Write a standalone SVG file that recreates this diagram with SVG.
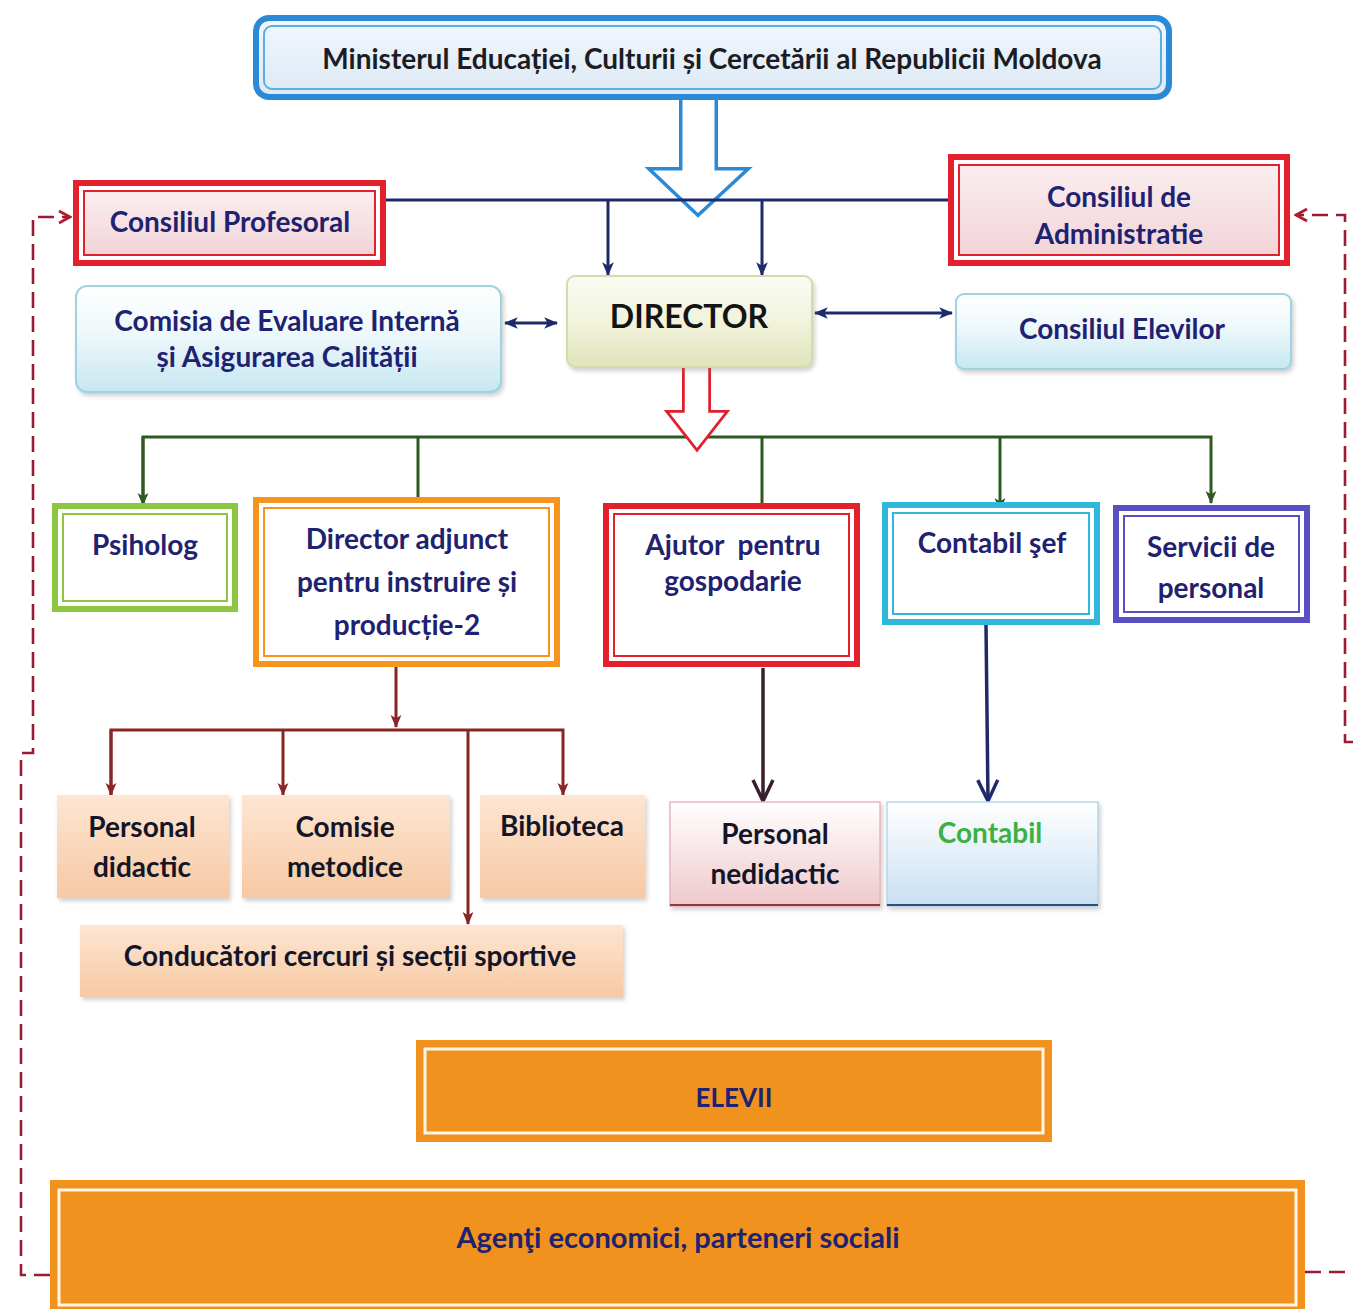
<svg xmlns="http://www.w3.org/2000/svg" width="1353" height="1309" viewBox="0 0 1353 1309">
<defs>
<style>
text{font-family:Lato,"Open Sans","Liberation Sans",sans-serif;font-weight:bold;text-anchor:middle;dominant-baseline:central;font-size:28px}
.nv{fill:#1e2270}
.dk{fill:#151528}
.navy{stroke:#1f2a6b;stroke-width:3;fill:none}
.green{stroke:#2f5a1f;stroke-width:3;fill:none}
.dred{stroke:#8b2424;stroke-width:3;fill:none}
.dash{stroke:#9a1c34;stroke-width:2.6;fill:none;stroke-dasharray:16 8}
</style>
<linearGradient id="gBlue" x1="0" y1="0" x2="0" y2="1"><stop offset="0" stop-color="#f2f7fc"/><stop offset="1" stop-color="#dce9f5"/></linearGradient>
<linearGradient id="gPink" x1="0" y1="0" x2="0" y2="1"><stop offset="0" stop-color="#fbeef0"/><stop offset="1" stop-color="#f1d4d8"/></linearGradient>
<linearGradient id="gCyan" x1="0" y1="0" x2="0" y2="1"><stop offset="0" stop-color="#ffffff"/><stop offset="0.45" stop-color="#eef8fb"/><stop offset="1" stop-color="#c6e7f0"/></linearGradient>
<linearGradient id="gDir" x1="0" y1="0" x2="0" y2="1"><stop offset="0" stop-color="#fbfbf4"/><stop offset="0.5" stop-color="#f1f3dc"/><stop offset="1" stop-color="#dfe4b8"/></linearGradient>
<linearGradient id="gPeach2" x1="0" y1="0" x2="0" y2="1"><stop offset="0" stop-color="#fde6d2"/><stop offset="1" stop-color="#f7c9a4"/></linearGradient>
<linearGradient id="gNed" x1="0" y1="0" x2="0" y2="1"><stop offset="0" stop-color="#ffffff"/><stop offset="1" stop-color="#efc8cc"/></linearGradient>
<linearGradient id="gCont" x1="0" y1="0" x2="0" y2="1"><stop offset="0" stop-color="#ffffff"/><stop offset="1" stop-color="#c9e0f2"/></linearGradient>
<filter id="sh" x="-5%" y="-5%" width="112%" height="120%"><feDropShadow dx="2" dy="3" stdDeviation="2" flood-color="#7a7a7a" flood-opacity="0.35"/></filter>
<marker id="aNavy" markerUnits="userSpaceOnUse" markerWidth="14" markerHeight="14" viewBox="0 0 12 12" refX="11" refY="6" orient="auto-start-reverse"><path d="M0,1 L12,6 L0,11 L3,6 z" fill="#1f2a6b"/></marker>
<marker id="aGreen" markerUnits="userSpaceOnUse" markerWidth="13" markerHeight="13" viewBox="0 0 12 12" refX="11" refY="6" orient="auto"><path d="M0,1 L12,6 L0,11 L3,6 z" fill="#2f5a1f"/></marker>
<marker id="aRed" markerUnits="userSpaceOnUse" markerWidth="13" markerHeight="13" viewBox="0 0 12 12" refX="11" refY="6" orient="auto"><path d="M0,1 L12,6 L0,11 L3,6 z" fill="#8b2424"/></marker>
<marker id="aOpenDk" markerUnits="userSpaceOnUse" markerWidth="26" markerHeight="26" viewBox="0 0 26 26" refX="24" refY="13" orient="auto"><path d="M3,3 L24,13 L3,23" fill="none" stroke="#3a1f2e" stroke-width="3.5"/></marker>
<marker id="aOpenNv" markerUnits="userSpaceOnUse" markerWidth="26" markerHeight="26" viewBox="0 0 26 26" refX="24" refY="13" orient="auto"><path d="M3,3 L24,13 L3,23" fill="none" stroke="#1f2a6b" stroke-width="3.5"/></marker>
<marker id="aDash" markerUnits="userSpaceOnUse" markerWidth="16" markerHeight="16" viewBox="0 0 16 16" refX="14" refY="8" orient="auto"><path d="M3,2 L14,8 L3,14" fill="none" stroke="#b01c2e" stroke-width="2.6"/></marker>
</defs>
<rect width="1353" height="1309" fill="#ffffff"/>

<g id="connectors">
<polygon points="684,100 713,100 713,172 740,172 698,211 657,172 684,172" fill="#ffffff" stroke="#2a8ad6" stroke-width="10"/>
<polygon points="684,100 713,100 713,172 740,172 698,211 657,172 684,172" fill="#ffffff" stroke="#ffffff" stroke-width="3"/>
<line x1="386" y1="200" x2="950" y2="200" class="navy"/>
<line x1="608" y1="200" x2="608" y2="275" class="navy" marker-end="url(#aNavy)"/>
<line x1="762" y1="200" x2="762" y2="275" class="navy" marker-end="url(#aNavy)"/>
<line x1="505" y1="323" x2="557" y2="323" class="navy" marker-start="url(#aNavy)" marker-end="url(#aNavy)"/>
<line x1="815" y1="313" x2="952" y2="313" class="navy" marker-start="url(#aNavy)" marker-end="url(#aNavy)"/>
<path d="M143,505 V437 H1211 V503" class="green" marker-end="url(#aGreen)"/>
<line x1="143" y1="437" x2="143" y2="505" class="green" marker-end="url(#aGreen)"/>
<line x1="418" y1="437" x2="418" y2="510" class="green" marker-end="url(#aGreen)"/>
<line x1="762" y1="437" x2="762" y2="516" class="green" marker-end="url(#aGreen)"/>
<line x1="1000" y1="437" x2="1000" y2="510" class="green" marker-end="url(#aGreen)"/>
<polygon points="686,368 707,368 707,414 722,414 697,446 672,414 686,414" fill="#ffffff" stroke="#e0202c" stroke-width="8"/>
<polygon points="686,368 707,368 707,414 722,414 697,446 672,414 686,414" fill="#ffffff" stroke="#ffffff" stroke-width="2.5"/>
<line x1="396" y1="667" x2="396" y2="727" class="dred" marker-end="url(#aRed)"/>
<path d="M111,795 V730 H563 V795" class="dred" marker-end="url(#aRed)"/>
<line x1="111" y1="730" x2="111" y2="795" class="dred" marker-end="url(#aRed)"/>
<line x1="283" y1="730" x2="283" y2="795" class="dred" marker-end="url(#aRed)"/>
<line x1="468" y1="730" x2="468" y2="924" class="dred" marker-end="url(#aRed)"/>
<line x1="763" y1="668" x2="763" y2="801" stroke="#3a1f2e" stroke-width="3.5" marker-end="url(#aOpenDk)"/>
<line x1="986" y1="625" x2="988" y2="801" stroke="#1f2a6b" stroke-width="3.5" marker-end="url(#aOpenNv)"/>
<path d="M50,1275 H21 V753 H33 V217 H70" class="dash" marker-end="url(#aDash)"/>
<path d="M1353,742 H1345 V215 H1296" class="dash" marker-end="url(#aDash)"/>
<path d="M1305,1272 H1353" class="dash"/>
</g>

<g id="ministry">
<rect x="256" y="18" width="913" height="79" rx="13" fill="url(#gBlue)" stroke="#2a8ad6" stroke-width="6"/>
<rect x="264" y="26" width="897" height="63" rx="8" fill="none" stroke="#5aaee6" stroke-width="2"/>
<text x="712" y="58" fill="#1c1c24">Ministerul Educației, Culturii și Cercetării al Republicii Moldova</text>
</g>

<g id="consiliul-profesoral">
<rect x="73" y="180" width="313" height="86" fill="#ffffff"/>
<rect x="76" y="183" width="307" height="80" fill="none" stroke="#e3202c" stroke-width="6"/>
<rect x="84" y="191" width="291" height="64" fill="url(#gPink)" stroke="#e3202c" stroke-width="2"/>
<text x="230" y="221" class="nv">Consiliul Profesoral</text>
</g>

<g id="consiliul-administratie">
<rect x="948" y="154" width="342" height="112" fill="#ffffff"/>
<rect x="951" y="157" width="336" height="106" fill="none" stroke="#e3202c" stroke-width="6"/>
<rect x="959" y="165" width="320" height="90" fill="url(#gPink)" stroke="#e3202c" stroke-width="2"/>
<text x="1119" y="196" class="nv">Consiliul de</text>
<text x="1119" y="233" class="nv">Administratie</text>
</g>

<g id="comisia">
<rect x="76" y="286" width="425" height="106" rx="11" fill="url(#gCyan)" stroke="#9fd2e2" stroke-width="2" filter="url(#sh)"/>
<text x="287" y="320" class="nv">Comisia de Evaluare Internă</text>
<text x="287" y="356" class="nv">și Asigurarea Calității</text>
</g>

<g id="director">
<rect x="567" y="276" width="245" height="91" rx="8" fill="url(#gDir)" stroke="#d6dbae" stroke-width="2" filter="url(#sh)"/>
<text x="689" y="315" font-size="32" fill="#141414" style="font-size:32px">DIRECTOR</text>
</g>

<g id="consiliul-elevilor">
<rect x="956" y="294" width="335" height="75" rx="8" fill="url(#gCyan)" stroke="#9fd2e2" stroke-width="2" filter="url(#sh)"/>
<text x="1122" y="328" class="nv">Consiliul Elevilor</text>
</g>

<g id="psiholog">
<rect x="52" y="503" width="186" height="109" fill="#ffffff"/>
<rect x="55" y="506" width="180" height="103" fill="none" stroke="#8dc641" stroke-width="6"/>
<rect x="63" y="514" width="164" height="87" fill="#ffffff" stroke="#8dc641" stroke-width="2"/>
<text x="145" y="544" class="nv">Psiholog</text>
</g>

<g id="director-adjunct">
<rect x="253" y="497" width="307" height="170" fill="#ffffff"/>
<rect x="256" y="500" width="301" height="164" fill="none" stroke="#f7941d" stroke-width="6"/>
<rect x="264" y="508" width="285" height="148" fill="#ffffff" stroke="#f7941d" stroke-width="2"/>
<text x="407" y="538" class="nv">Director adjunct</text>
<text x="407" y="581" class="nv">pentru instruire și</text>
<text x="407" y="624" class="nv">producție-2</text>
</g>

<g id="ajutor">
<rect x="603" y="503" width="257" height="164" fill="#ffffff"/>
<rect x="606" y="506" width="251" height="158" fill="none" stroke="#e3202c" stroke-width="6"/>
<rect x="614" y="514" width="235" height="142" fill="#ffffff" stroke="#e3202c" stroke-width="2"/>
<text x="733" y="544" class="nv" xml:space="preserve">Ajutor  pentru</text>
<text x="733" y="580" class="nv">gospodarie</text>
</g>

<g id="contabil-sef">
<rect x="882" y="502" width="218" height="123" fill="#ffffff"/>
<rect x="885" y="505" width="212" height="117" fill="none" stroke="#2fb8da" stroke-width="6"/>
<rect x="893" y="513" width="196" height="101" fill="#ffffff" stroke="#2fb8da" stroke-width="2"/>
<text x="992" y="542" class="nv">Contabil şef</text>
</g>

<g id="servicii">
<rect x="1113" y="505" width="197" height="118" fill="#ffffff"/>
<rect x="1116" y="508" width="191" height="112" fill="none" stroke="#5a4fc2" stroke-width="6"/>
<rect x="1124" y="516" width="175" height="96" fill="#ffffff" stroke="#5a4fc2" stroke-width="2"/>
<text x="1211" y="546" class="nv">Servicii de</text>
<text x="1211" y="587" class="nv">personal</text>
</g>

<g id="personal-didactic">
<rect x="57" y="795" width="172" height="103" fill="url(#gPeach2)" filter="url(#sh)"/>
<text x="142" y="826" class="dk">Personal</text>
<text x="142" y="866" class="dk">didactic</text>
</g>

<g id="comisie-metodice">
<rect x="242" y="795" width="208" height="103" fill="url(#gPeach2)" filter="url(#sh)"/>
<text x="345" y="826" class="dk">Comisie</text>
<text x="345" y="866" class="dk">metodice</text>
</g>

<g id="biblioteca">
<rect x="480" y="795" width="165" height="103" fill="url(#gPeach2)" filter="url(#sh)"/>
<text x="562" y="825" class="dk">Biblioteca</text>
</g>

<g id="conducatori">
<rect x="80" y="925" width="543" height="72" fill="url(#gPeach2)" filter="url(#sh)"/>
<text x="350" y="955" class="dk">Conducători cercuri și secții sportive</text>
</g>

<g id="personal-nedidactic">
<rect x="670" y="802" width="210" height="104" fill="url(#gNed)" stroke="#e8b7bd" stroke-width="1.5" filter="url(#sh)"/>
<line x1="670" y1="905" x2="880" y2="905" stroke="#8b3a44" stroke-width="2"/>
<text x="775" y="833" class="dk">Personal</text>
<text x="775" y="873" class="dk">nedidactic</text>
</g>

<g id="contabil">
<rect x="887" y="802" width="211" height="104" fill="url(#gCont)" stroke="#b7d6ea" stroke-width="1.5" filter="url(#sh)"/>
<line x1="887" y1="905" x2="1098" y2="905" stroke="#2d4f7a" stroke-width="2"/>
<text x="990" y="832" fill="#3cb043">Contabil</text>
</g>

<g id="elevii">
<rect x="416" y="1040" width="636" height="102" fill="#f1921f"/>
<rect x="425" y="1049" width="618" height="84" fill="none" stroke="#fff6e8" stroke-width="3"/>
<text x="734" y="1097" class="nv" style="font-size:26px">ELEVII</text>
</g>

<g id="agenti">
<rect x="50" y="1180" width="1255" height="129" fill="#f1921f"/>
<rect x="59" y="1190" width="1237" height="115" fill="none" stroke="#fff6e8" stroke-width="3"/>
<text x="678" y="1236" class="nv" style="font-size:29px">Agenţi economici, parteneri sociali</text>
</g>
</svg>
